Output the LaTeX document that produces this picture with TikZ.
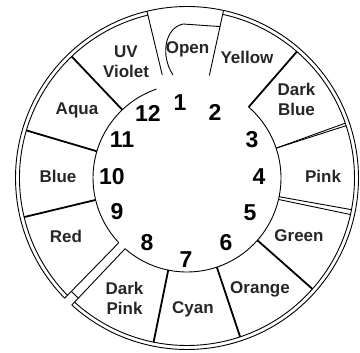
\documentclass[tikz,border=0pt]{standalone}
\usepackage{fontspec}
\setmainfont{Liberation Sans}
\usepackage{tikz}
\usetikzlibrary{positioning}

\begin{document}
\begin{tikzpicture}[x=1pt,y=1pt,
  lbl/.style={font=\fontsize{17}{20}\selectfont\bfseries, text=black!85,
              align=center, inner sep=0pt},
  num/.style={font=\fontsize{23}{23}\selectfont\bfseries, inner sep=0pt},
  rim/.style={line width=0.9pt},
  sep/.style={line width=1.8pt}
]
  \useasboundingbox (0,0) rectangle (360,353);
  \begin{scope}[shift={(187,175)}]
  % outer double ring, broken at the slot
  \draw[rim] (227.8:171.5) arc[start angle=227.8, end angle=584.5, radius=171.5];
  \draw[rim] (227.8:167.5) arc[start angle=227.8, end angle=437.7, radius=167.5];
  \draw[rim] (103.5:167.5) arc[start angle=103.5, end angle=224.5, radius=167.5];
  % inner ring
  \draw[rim] (228.8:94) arc[start angle=228.8, end angle=409, radius=94];
  \draw[rim] (109:94) arc[start angle=109, end angle=223.5, radius=94];
  % slot
  \draw[rim] (223.5:94) -- (224.5:171.5);
  \draw[rim] (228.8:94) -- (227.8:171.5);
  \draw[rim] (224.4:162) -- (227.9:162);
  % open position
  \draw[rim] (103.5:106) -- (103.5:171.5);
  \draw[rim] (77.7:105) -- (77.7:171.5);
  \draw[rim] (-14,103) .. controls (-27,123) and (-22,150) .. (-4,154) -- (77.7:155);
  % dividers
  \draw[sep] (49:94) -- (49:167.5);
  \draw[rim] (18.5:94) -- (18.2:167.5);
  \draw[rim] (18.5:94) -- (19.1:167.5);
  \draw[rim] (348.5:94) -- (349.1:167.5);
  \draw[rim] (346.8:94) -- (347.4:167.5);
  \draw[sep] (318.5:94) -- (318.5:167.5);
  \draw[sep] (288.5:94) -- (288.5:167.5);
  \draw[sep] (258.5:94) -- (258.5:167.5);
  \draw[sep] (193.5:94) -- (193.5:167.5);
  \draw[sep] (163.5:94) -- (163.5:167.5);
  \draw[sep] (133.5:94) -- (133.5:167.5);

  % filter names
  \node[lbl] (open)   at (0.5,129)    {Open};
  \node[lbl] (yellow) at (60,121)     {Yellow};
  \node[lbl] (dblue)  at (109.5,79)   {Dark\\Blue};
  \node[lbl] (pink)   at (136,2)      {Pink};
  \node[lbl] (green)  at (112,-58)    {Green};
  \node[lbl] (orange) at (73,-111)    {Orange};
  \node[lbl] (cyan)   at (6,-131)     {Cyan};
  \node[lbl] (dpink)  at (-62.5,-120.5) {Dark\\Pink};
  \node[lbl] (red)    at (-121,-58)   {Red};
  \node[lbl] (blue)   at (-129,2)     {Blue};
  \node[lbl] (aqua)   at (-110,68)    {Aqua};
  \node[lbl] (uv)     at (-61,116.5)  {UV\\Violet};

  % position numbers
  \node[num] (n1)  at (-7,75)   {1};
  \node[num] (n2)  at (28,66)   {2};
  \node[num] (n3)  at (65,38)   {3};
  \node[num] (n4)  at (72,1)    {4};
  \node[num] (n5)  at (63,-35)  {5};
  \node[num] (n6)  at (39,-65)  {6};
  \node[num] (n7)  at (-1,-82)  {7};
  \node[num] (n8)  at (-40,-65) {8};
  \node[num] (n9)  at (-70,-34) {9};
  \node[num] (n10) at (-75,1)   {10};
  \node[num] (n11) at (-65,38)  {11};
  \node[num] (n12) at (-39,65)  {12};
  \end{scope}
\end{tikzpicture}
\end{document}
